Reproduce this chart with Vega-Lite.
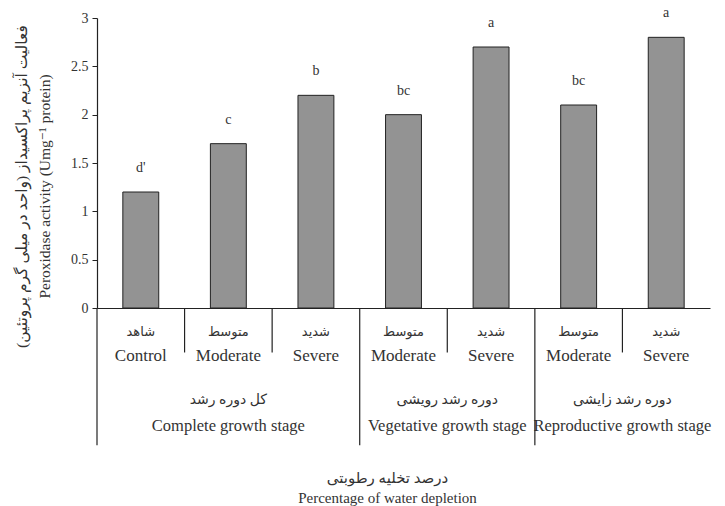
{
  "$schema": "https://vega.github.io/schema/vega-lite/v6.json",
  "autosize": "none",
  "width": 613,
  "height": 290,
  "padding": {"left": 97, "top": 18, "right": 15, "bottom": 198},
  "background": "white",
  "config": {
    "view": {"stroke": null},
    "font": "Liberation Serif, DejaVu Sans",
    "text": {"font": "Liberation Serif, DejaVu Sans", "color": "#333"}
  },
  "datasets": {
    "bars": [
      {"cat": "c1", "fa": "شاهد", "en": "Control", "value": 1.2, "letter": "d'"},
      {"cat": "c2", "fa": "متوسط", "en": "Moderate", "value": 1.7, "letter": "c"},
      {"cat": "c3", "fa": "شدید", "en": "Severe", "value": 2.2, "letter": "b"},
      {"cat": "c4", "fa": "متوسط", "en": "Moderate", "value": 2.0, "letter": "bc"},
      {"cat": "c5", "fa": "شدید", "en": "Severe", "value": 2.7, "letter": "a"},
      {"cat": "c6", "fa": "متوسط", "en": "Moderate", "value": 2.1, "letter": "bc"},
      {"cat": "c7", "fa": "شدید", "en": "Severe", "value": 2.8, "letter": "a"}
    ],
    "groups_mid": [
      {"cat": "c2", "fa": "کل دوره رشد", "en": "Complete growth stage"}
    ],
    "groups_edge": [
      {"cat": "c5", "fa": "دوره رشد رویشی", "en": "Vegetative growth stage"},
      {"cat": "c7", "fa": "دوره رشد زایشی", "en": "Reproductive growth stage"}
    ],
    "divs": [
      {"cat": "c1", "kind": "long"},
      {"cat": "c2", "kind": "short"},
      {"cat": "c3", "kind": "short"},
      {"cat": "c4", "kind": "long"},
      {"cat": "c5", "kind": "short"},
      {"cat": "c6", "kind": "long"},
      {"cat": "c7", "kind": "short"}
    ]
  },
  "resolve": {"scale": {"x": "shared", "y": "shared"}},
  "layer": [
    {
      "data": {"name": "bars"},
      "mark": {"type": "bar", "width": {"band": 0.41}, "fill": "#939393", "stroke": "#222", "strokeWidth": 1},
      "encoding": {
        "x": {
          "field": "cat", "type": "nominal", "sort": null,
          "scale": {"paddingInner": 0, "paddingOuter": 0},
          "axis": {
            "labels": false, "ticks": false, "domain": true, "domainColor": "#222", "domainWidth": 1.2,
            "title": ["درصد تخلیه رطوبتی", "Percentage of  water depletion"],
            "titleFont": "Liberation Serif, DejaVu Sans", "titleFontSize": 15, "titleFontWeight": "normal",
            "titleColor": "#333", "titlePadding": 162, "titleLineHeight": 20, "titleX": 290
          }
        },
        "y": {
          "field": "value", "type": "quantitative",
          "scale": {"domain": [0, 3], "nice": false, "zero": true},
          "axis": {
            "values": [0, 0.5, 1, 1.5, 2, 2.5, 3], "format": "~g", "grid": false,
            "domainColor": "#222", "domainWidth": 1.2, "tickColor": "#222", "tickSize": 5,
            "labelFont": "Liberation Serif", "labelFontSize": 14, "labelColor": "#333", "labelPadding": 4,
            "title": ["فعالیت آنزیم پراکسیداز (واحد در میلی گرم پروتئین)", "Peroxidase activity (Umg⁻¹ protein)"],
            "titleFont": "Liberation Serif, DejaVu Sans", "titleFontSize": 15.5, "titleFontWeight": "normal",
            "titleColor": "#333", "titlePadding": 18, "titleLineHeight": 23, "titleY": 168
          }
        }
      }
    },
    {
      "data": {"name": "bars"},
      "mark": {"type": "text", "fontSize": 14, "baseline": "middle", "dy": -24},
      "encoding": {
        "x": {"field": "cat", "type": "nominal", "sort": null},
        "y": {"field": "value", "type": "quantitative"},
        "text": {"field": "letter"}
      }
    },
    {
      "data": {"name": "bars"},
      "mark": {"type": "text", "fontSize": 13, "baseline": "middle"},
      "encoding": {
        "x": {"field": "cat", "type": "nominal", "sort": null},
        "y": {"datum": -0.25},
        "text": {"field": "fa"}
      }
    },
    {
      "data": {"name": "bars"},
      "mark": {"type": "text", "fontSize": 17, "baseline": "middle"},
      "encoding": {
        "x": {"field": "cat", "type": "nominal", "sort": null},
        "y": {"datum": -0.5},
        "text": {"field": "en"}
      }
    },
    {
      "data": {"name": "groups_mid"},
      "mark": {"type": "text", "fontSize": 14, "baseline": "middle"},
      "encoding": {
        "x": {"field": "cat", "type": "nominal", "sort": null, "bandPosition": 0.5},
        "y": {"datum": -0.95},
        "text": {"field": "fa"}
      }
    },
    {
      "data": {"name": "groups_mid"},
      "mark": {"type": "text", "fontSize": 16.5, "baseline": "middle"},
      "encoding": {
        "x": {"field": "cat", "type": "nominal", "sort": null, "bandPosition": 0.5},
        "y": {"datum": -1.22},
        "text": {"field": "en"}
      }
    },
    {
      "data": {"name": "groups_edge"},
      "mark": {"type": "text", "fontSize": 14, "baseline": "middle"},
      "encoding": {
        "x": {"field": "cat", "type": "nominal", "sort": null, "bandPosition": 0},
        "y": {"datum": -0.95},
        "text": {"field": "fa"}
      }
    },
    {
      "data": {"name": "groups_edge"},
      "mark": {"type": "text", "fontSize": 16.5, "baseline": "middle"},
      "encoding": {
        "x": {"field": "cat", "type": "nominal", "sort": null, "bandPosition": 0},
        "y": {"datum": -1.22},
        "text": {"field": "en"}
      }
    },
    {
      "data": {"name": "divs"},
      "transform": [{"filter": "datum.kind === 'short'"}],
      "mark": {"type": "rule", "color": "#222", "strokeWidth": 1.2},
      "encoding": {
        "x": {"field": "cat", "type": "nominal", "sort": null, "bandPosition": 0},
        "y": {"datum": 0},
        "y2": {"datum": -0.46}
      }
    },
    {
      "data": {"name": "divs"},
      "transform": [{"filter": "datum.kind === 'long'"}],
      "mark": {"type": "rule", "color": "#222", "strokeWidth": 1.2},
      "encoding": {
        "x": {"field": "cat", "type": "nominal", "sort": null, "bandPosition": 0},
        "y": {"datum": 0},
        "y2": {"datum": -1.42}
      }
    }
  ]
}
